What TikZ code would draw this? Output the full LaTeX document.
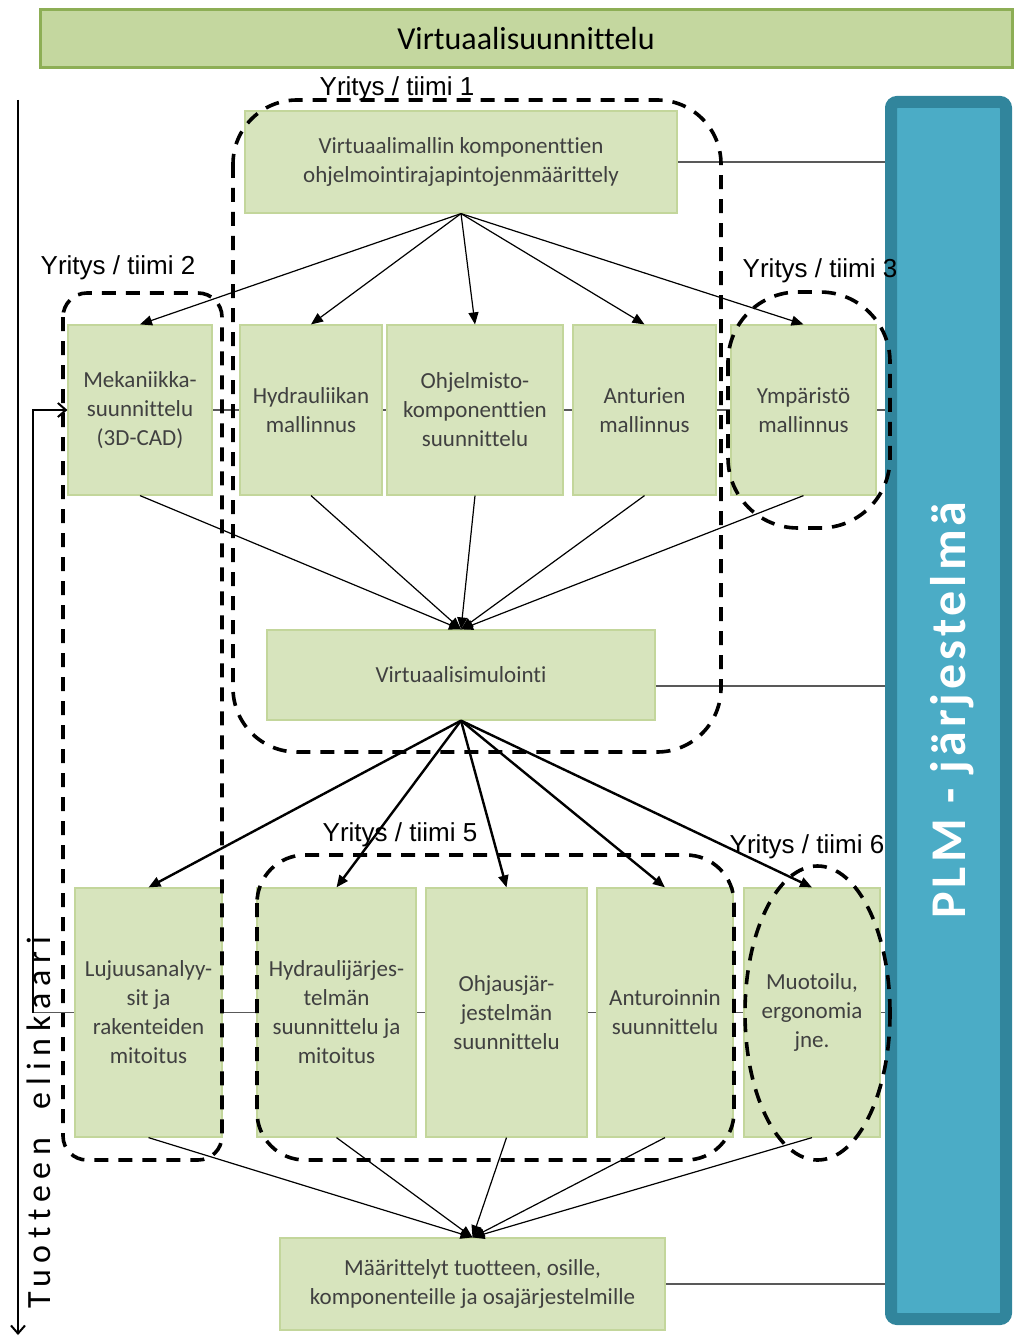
\documentclass[tikz,border=0pt]{standalone}
\usepackage{fontspec}
\setmainfont{Carlito}[Ligatures=NoCommon]
\newfontfamily\grpfont{Liberation Sans}
\newfontfamily\axisfont[LetterSpace=20,Ligatures=NoCommon]{Carlito}
\newfontfamily\plmfont[LetterSpace=8,Ligatures=NoCommon]{Carlito}
\usepackage{tikz}
\usetikzlibrary{arrows.meta,backgrounds}
\definecolor{boxfill}{HTML}{D7E4BD}
\definecolor{boxline}{HTML}{C3D69B}
\definecolor{barfill}{HTML}{C4D79F}
\definecolor{barline}{HTML}{8DAE55}
\definecolor{plmline}{HTML}{31859C}
\definecolor{plmfill}{HTML}{4BACC6}
\definecolor{boxtext}{HTML}{404040}
\tikzset{
  >={Triangle[length=6pt,width=5pt]},
  stage/.style={draw=boxline,fill=boxfill,line width=0.6pt,text=boxtext,
    align=center,font=\fontsize{11.5}{14.5}\selectfont,inner sep=2pt},
  rowa/.style={stage,minimum height=85pt},
  rowb/.style={stage,minimum height=124.5pt},
  titlebar/.style={draw=barline,fill=barfill,line width=1.5pt,
    font=\fontsize{16}{19}\selectfont,minimum width=486pt,minimum height=29pt},
  plmbar/.style={draw=plmline,fill=plmfill,line width=6pt,rounded corners=3pt},
  plmlbl/.style={rotate=90,text=white,font=\plmfont\bfseries\fontsize{25}{28}\selectfont},
  team/.style={dash pattern=on 7pt off 5pt,line width=1.8pt},
  teamlbl/.style={font=\grpfont\fontsize{13}{15}\selectfont,inner sep=0pt},
  split/.style={->,line width=0.6pt},
  fan/.style={->,line width=1.2pt},
  merge/.style={->,line width=0.6pt},
  link/.style={line width=0.6pt,black!65},
  feedback/.style={-{Straight Barb[length=4pt,width=7pt]},line width=1pt},
  lifeaxis/.style={-{Straight Barb[length=4pt,width=7pt]},line width=1pt},
  axislbl/.style={rotate=90,font=\axisfont\fontsize{17}{20}\selectfont},
}
\begin{document}
\begin{tikzpicture}[x=0.5pt,y=-0.5pt]
  \useasboundingbox (0,0) rectangle (1014,1337);
  \node[titlebar] (vs) at (526,39) {Virtuaalisuunnittelu};
  \node[plmbar,minimum width=57.5pt,minimum height=608.5pt] (plm) at (948.5,710.5) {};
  \node[plmlbl] (plmtxt) at (952,710) {PLM - järjestelmä};

  \node[stage,minimum width=216pt,minimum height=51pt] (api) at (461,162)
    {Virtuaalimallin komponenttien\\ohjelmointirajapintojenmäärittely};
  \node[rowa,minimum width=72pt] (mek) at (140,410) {Mekaniikka-\\suunnittelu\\(3D-CAD)};
  \node[rowa,minimum width=71pt] (hyd) at (311,410) {Hydrauliikan\\mallinnus};
  \node[rowa,minimum width=88pt] (ohj) at (475,410) {Ohjelmisto-\\komponenttien\\suunnittelu};
  \node[rowa,minimum width=71.5pt] (ant) at (644.5,410) {Anturien\\mallinnus};
  \node[rowa,minimum width=72.5pt] (ymp) at (803.5,410) {Ympäristö\\mallinnus};
  \node[stage,minimum width=194pt,minimum height=45pt] (sim) at (461,675) {Virtuaalisimulointi};
  \node[rowb,minimum width=73.5pt] (luj) at (148.5,1012.5) {Lujuusanalyy-\\sit ja\\rakenteiden\\mitoitus};
  \node[rowb,minimum width=79.5pt] (hyj) at (336.5,1012.5) {Hydraulijärjes-\\telmän\\suunnittelu ja\\mitoitus};
  \node[rowb,minimum width=80.5pt] (ohs) at (506.5,1012.5) {Ohjausjär-\\jestelmän\\suunnittelu};
  \node[rowb,minimum width=68pt] (atr) at (665,1012.5) {Anturoinnin\\suunnittelu};
  \node[rowb,minimum width=68pt] (muo) at (812,1012.5) {Muotoilu,\\ergonomia\\jne.};
  \node[stage,minimum width=192.5pt,minimum height=46pt] (spec) at (472.5,1284)
    {Määrittelyt tuotteen, osille,\\komponenteille ja osajärjestelmille};

  \coordinate (fb) at (33,1012.5);
  \coordinate (lctop) at (18,100);
  \coordinate (lcbot) at (18,1335);
  \begin{scope}[on background layer]
    \draw[link] (api.east) -- (api.east -| plm.west);
    \draw[link] (mek.east) -- (mek.east -| plm.west);
    \draw[link] ([yshift=-5.5pt]sim.east) -- ([yshift=-5.5pt]sim.east -| plm.west);
    \draw[link] (fb) -- (fb -| plm.west);
    \draw[link] (spec.east) -- (spec.east -| plm.west);
  \end{scope}
  \draw[feedback] (fb) |- (mek.west);
  \draw[lifeaxis] (lctop) -- (lcbot);
  \node[axislbl] (lclbl) at (39,1123) {Tuotteen\hspace{7pt} elinkaari};

  \draw[split] (api.south) -- (mek.north);
  \draw[split] (api.south) -- (hyd.north);
  \draw[split] (api.south) -- (ohj.north);
  \draw[split] (api.south) -- (ant.north);
  \draw[split] (api.south) -- (ymp.north);
  \draw[merge] (mek.south) -- (sim.north);
  \draw[merge] (hyd.south) -- (sim.north);
  \draw[merge] (ohj.south) -- (sim.north);
  \draw[merge] (ant.south) -- (sim.north);
  \draw[merge] (ymp.south) -- (sim.north);
  \draw[fan] (sim.south) -- (luj.north);
  \draw[fan] (sim.south) -- (hyj.north);
  \draw[fan] (sim.south) -- (ohs.north);
  \draw[fan] (sim.south) -- (atr.north);
  \draw[fan] (sim.south) -- (muo.north);
  \draw[merge] (luj.south) -- (spec.north);
  \draw[merge] (hyj.south) -- (spec.north);
  \draw[merge] (ohs.south) -- (spec.north);
  \draw[merge] (atr.south) -- (spec.north);
  \draw[merge] (muo.south) -- (spec.north);

  \draw[team,rounded corners=32pt] (233,100) rectangle (721,752);
  \draw[team,rounded corners=12pt] (63,293) rectangle (222,1160);
  \draw[team,rounded corners=35pt] (728,292) rectangle (890,528);
  \draw[team,rounded corners=24pt] (257,855) rectangle (734,1160);
  \draw[team] (817.5,1013) ellipse [x radius=36.25pt,y radius=73.5pt];
  \node[teamlbl] (t1) at (397,89) {Yritys / tiimi 1};
  \node[teamlbl] (t2) at (118,268) {Yritys / tiimi 2};
  \node[teamlbl] (t3) at (820,271) {Yritys / tiimi 3};
  \node[teamlbl] (t5) at (400,835) {Yritys / tiimi 5};
  \node[teamlbl] (t6) at (807,847) {Yritys / tiimi 6};
\end{tikzpicture}
\end{document}
